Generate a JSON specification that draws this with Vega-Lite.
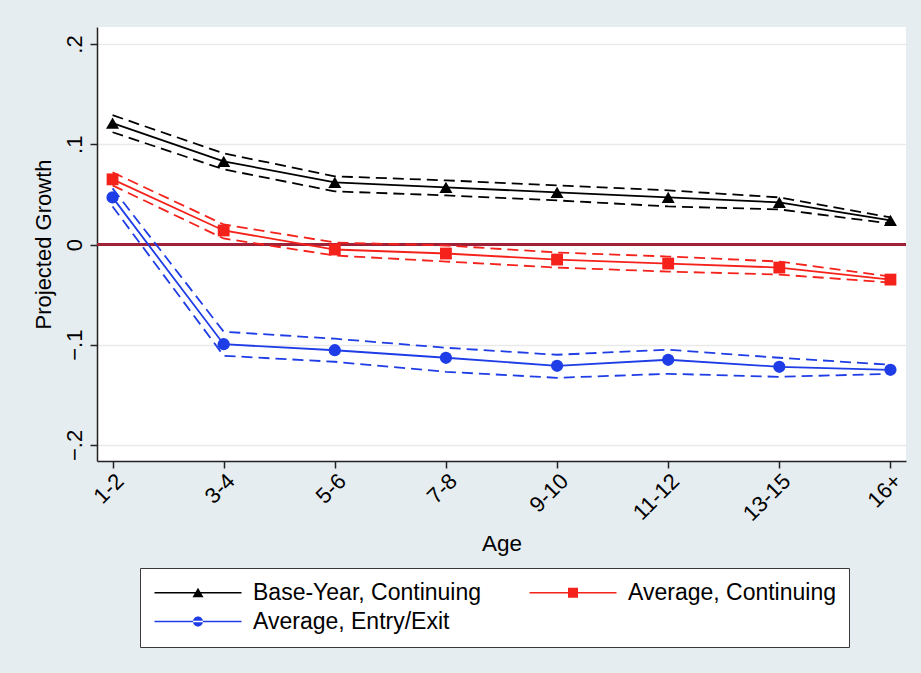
{
  "$schema": "https://vega.github.io/schema/vega-lite/v6.json",
  "autosize": "none",
  "width": 809,
  "height": 434,
  "padding": {"left": 97, "top": 27, "right": 15, "bottom": 212},
  "background": "#e6edf0",
  "config": {
    "view": {"fill": "white", "stroke": null},
    "font": "Liberation Sans"
  },
  "data": {
    "values": [
      {"series": "Base-Year, Continuing", "age": "1-2", "est": 0.121, "lo": 0.112, "hi": 0.129},
      {"series": "Base-Year, Continuing", "age": "3-4", "est": 0.083, "lo": 0.075, "hi": 0.091},
      {"series": "Base-Year, Continuing", "age": "5-6", "est": 0.062, "lo": 0.053, "hi": 0.068},
      {"series": "Base-Year, Continuing", "age": "7-8", "est": 0.057, "lo": 0.049, "hi": 0.064},
      {"series": "Base-Year, Continuing", "age": "9-10", "est": 0.052, "lo": 0.044, "hi": 0.059},
      {"series": "Base-Year, Continuing", "age": "11-12", "est": 0.047, "lo": 0.038, "hi": 0.054},
      {"series": "Base-Year, Continuing", "age": "13-15", "est": 0.042, "lo": 0.035, "hi": 0.047},
      {"series": "Base-Year, Continuing", "age": "16+", "est": 0.024, "lo": 0.021, "hi": 0.027},
      {"series": "Average, Continuing", "age": "1-2", "est": 0.065, "lo": 0.059, "hi": 0.072},
      {"series": "Average, Continuing", "age": "3-4", "est": 0.014, "lo": 0.006, "hi": 0.020},
      {"series": "Average, Continuing", "age": "5-6", "est": -0.005, "lo": -0.011, "hi": 0.002},
      {"series": "Average, Continuing", "age": "7-8", "est": -0.009, "lo": -0.017, "hi": -0.001},
      {"series": "Average, Continuing", "age": "9-10", "est": -0.015, "lo": -0.023, "hi": -0.008},
      {"series": "Average, Continuing", "age": "11-12", "est": -0.019, "lo": -0.027, "hi": -0.012},
      {"series": "Average, Continuing", "age": "13-15", "est": -0.023, "lo": -0.030, "hi": -0.017},
      {"series": "Average, Continuing", "age": "16+", "est": -0.035, "lo": -0.038, "hi": -0.032},
      {"series": "Average, Entry/Exit", "age": "1-2", "est": 0.047, "lo": 0.038, "hi": 0.056},
      {"series": "Average, Entry/Exit", "age": "3-4", "est": -0.0995, "lo": -0.111, "hi": -0.087},
      {"series": "Average, Entry/Exit", "age": "5-6", "est": -0.1055, "lo": -0.117, "hi": -0.094},
      {"series": "Average, Entry/Exit", "age": "7-8", "est": -0.113, "lo": -0.127, "hi": -0.103},
      {"series": "Average, Entry/Exit", "age": "9-10", "est": -0.121, "lo": -0.133, "hi": -0.110},
      {"series": "Average, Entry/Exit", "age": "11-12", "est": -0.115, "lo": -0.129, "hi": -0.105},
      {"series": "Average, Entry/Exit", "age": "13-15", "est": -0.122, "lo": -0.132, "hi": -0.113},
      {"series": "Average, Entry/Exit", "age": "16+", "est": -0.125, "lo": -0.129, "hi": -0.120}
    ]
  },
  "layer": [
    {
      "mark": {"type": "rule", "color": "#9e2238", "strokeWidth": 1.5},
      "encoding": {
        "y": {"datum": 0, "type": "quantitative"}
      }
    },
    {
      "transform": [{"fold": ["lo", "hi", "est"], "as": ["kind", "value"]}],
      "encoding": {
        "x": {
          "field": "age",
          "type": "ordinal",
          "scale": {
            "type": "point",
            "domain": ["1-2", "3-4", "5-6", "7-8", "9-10", "11-12", "13-15", "16+"],
            "padding": 0.14
          },
          "axis": {
            "title": "Age",
            "labelAngle": -45,
            "labelFontSize": 22,
            "labelColor": "black",
            "labelPadding": 2,
            "titleFontSize": 22.5,
            "titleFontWeight": "normal",
            "titleColor": "black",
            "titlePadding": 8,
            "grid": false,
            "domainColor": "#222222",
            "domainWidth": 1.5,
            "tickColor": "#222222",
            "tickWidth": 1.5,
            "tickSize": 7
          }
        },
        "y": {
          "field": "value",
          "type": "quantitative",
          "scale": {"domain": [-0.216, 0.217], "nice": false, "zero": false},
          "axis": {
            "title": "Projected Growth",
            "values": [-0.2, -0.1, 0, 0.1, 0.2],
            "labelExpr": "datum.value == 0 ? '0' : replace(format(datum.value, '.1f'), '0.', '.')",
            "labelAngle": -90,
            "labelFontSize": 22,
            "labelColor": "black",
            "labelPadding": 4,
            "titleFontSize": 22,
            "titleFontWeight": "normal",
            "titleColor": "black",
            "titlePadding": 8,
            "grid": true,
            "gridColor": "#e9e9e9",
            "gridWidth": 1.5,
            "domainColor": "#222222",
            "domainWidth": 1.5,
            "tickColor": "#222222",
            "tickWidth": 1.5,
            "tickSize": 7
          }
        }
      },
      "layer": [
        {
          "transform": [{"filter": "datum.series == 'Base-Year, Continuing' && datum.kind != 'est'"}],
          "mark": {"type": "line", "color": "#000000", "strokeWidth": 1.8, "strokeDash": [11, 6]},
          "encoding": {"detail": {"field": "kind"}}
        },
        {
          "transform": [{"filter": "datum.series == 'Average, Continuing' && datum.kind != 'est'"}],
          "mark": {"type": "line", "color": "#f5221b", "strokeWidth": 1.8, "strokeDash": [11, 6]},
          "encoding": {"detail": {"field": "kind"}}
        },
        {
          "transform": [{"filter": "datum.series == 'Average, Entry/Exit' && datum.kind != 'est'"}],
          "mark": {"type": "line", "color": "#1e3de6", "strokeWidth": 1.8, "strokeDash": [11, 6]},
          "encoding": {"detail": {"field": "kind"}}
        },
        {
          "transform": [{"filter": "datum.series == 'Base-Year, Continuing' && datum.kind == 'est'"}],
          "mark": {"type": "line", "color": "#000000", "strokeWidth": 1.8},
          "encoding": {}
        },
        {
          "transform": [{"filter": "datum.series == 'Average, Continuing' && datum.kind == 'est'"}],
          "mark": {"type": "line", "color": "#f5221b", "strokeWidth": 1.8},
          "encoding": {}
        },
        {
          "transform": [{"filter": "datum.series == 'Average, Entry/Exit' && datum.kind == 'est'"}],
          "mark": {"type": "line", "color": "#1e3de6", "strokeWidth": 1.8},
          "encoding": {}
        },
        {
          "transform": [{"filter": "datum.series == 'Base-Year, Continuing' && datum.kind == 'est'"}],
          "mark": {"type": "point", "filled": true, "color": "#000000", "shape": "triangle-up", "size": 170, "opacity": 1}
        },
        {
          "transform": [{"filter": "datum.series == 'Average, Continuing' && datum.kind == 'est'"}],
          "mark": {"type": "point", "filled": true, "color": "#f5221b", "shape": "square", "size": 140, "opacity": 1}
        },
        {
          "transform": [{"filter": "datum.series == 'Average, Entry/Exit' && datum.kind == 'est'"}],
          "mark": {"type": "point", "filled": true, "color": "#1e3de6", "shape": "circle", "size": 150, "opacity": 1}
        },
        {
          "transform": [{"filter": "false"}],
          "mark": {"type": "point", "filled": true, "size": 400, "opacity": 1},
          "encoding": {
            "color": {
              "field": "series",
              "type": "nominal",
              "scale": {
                "domain": ["Base-Year, Continuing", "Average, Entry/Exit", "Average, Continuing"],
                "range": ["#000000", "#1e3de6", "#f5221b"]
              },
              "legend": {
                "title": null,
                "orient": "none",
                "legendX": 43,
                "legendY": 541,
                "columns": 2,
                "symbolSize": 400,
                "symbolStrokeWidth": 0,
                "labelFontSize": 23,
                "labelLimit": 400,
                "labelColor": "black",
                "labelOffset": 77,
                "columnPadding": 46,
                "rowPadding": 5,
                "padding": 13,
                "strokeColor": "#3a3a3a",
                "fillColor": "white"
              }
            },
            "shape": {
              "field": "series",
              "type": "nominal",
              "scale": {
                "domain": ["Base-Year, Continuing", "Average, Entry/Exit", "Average, Continuing"],
                "range": [
                  "M-1,-0.08H7.7V0.08H-1ZM2.8,0.45L3.35,-0.5L3.9,0.45Z",
                  "M-1,-0.08H7.7V0.08H-1ZM2.85,0A0.5,0.5,0,1,0,3.85,0A0.5,0.5,0,1,0,2.85,0Z",
                  "M-1,-0.08H7.7V0.08H-1ZM2.85,-0.5H3.85V0.5H2.85Z"
                ]
              },
              "legend": {
                "title": null,
                "orient": "none",
                "legendX": 43,
                "legendY": 541,
                "columns": 2,
                "symbolSize": 400,
                "symbolStrokeWidth": 0,
                "labelFontSize": 23,
                "labelLimit": 400,
                "labelColor": "black",
                "labelOffset": 77,
                "columnPadding": 46,
                "rowPadding": 5,
                "padding": 13,
                "strokeColor": "#3a3a3a",
                "fillColor": "white"
              }
            }
          }
        }
      ]
    }
  ]
}
